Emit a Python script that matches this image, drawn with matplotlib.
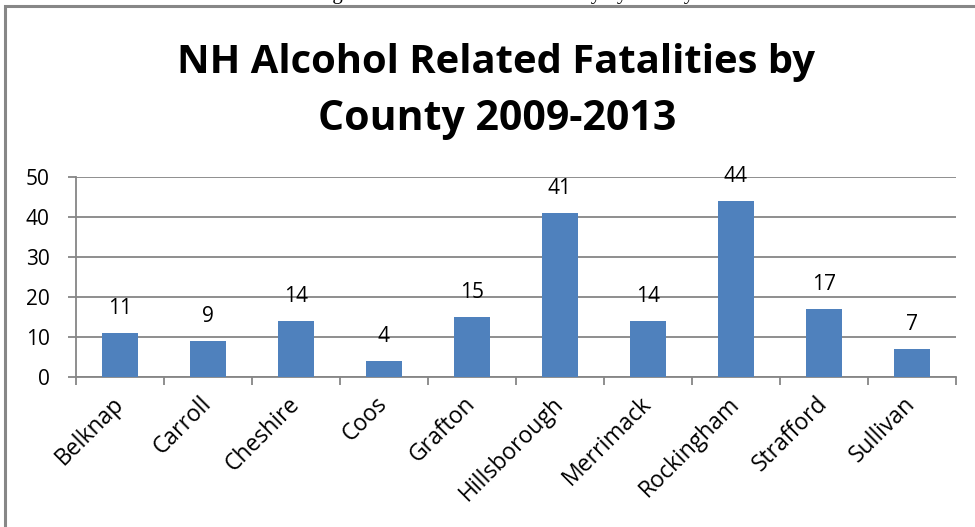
import matplotlib

matplotlib.use("Agg")
import matplotlib.pyplot as plt
from matplotlib.patches import Rectangle

counties = ["Belknap", "Carroll", "Cheshire", "Coos", "Grafton",
            "Hillsborough", "Merrimack", "Rockingham", "Strafford", "Sullivan"]
fatalities = [11, 9, 14, 4, 15, 41, 14, 44, 17, 7]
y_ticks = [0, 10, 20, 30, 40, 50]

W, H = 975, 527
fig = plt.figure(figsize=(W / 100, H / 100), dpi=100)
font = ["Open Sans", "DejaVu Sans"]

# chart frame (runs off the right and bottom edges)
fig.patches.append(Rectangle((4.5 / W, -0.1), 1.1, 1.1 - 6 / H,
                             transform=fig.transFigure, fill=False,
                             edgecolor="#878787", linewidth=2.2))

# caption of the page, almost all cut off by the top edge
fig.text(505 / W, 1 + 1.5 / H, "Figure 5: Alcohol Related Fatality by County",
         ha="center", va="baseline", fontsize=15, family="Liberation Serif")

left, right, top, bottom = 76, 956, 177, 377
ax = fig.add_axes([left / W, 1 - bottom / H, (right - left) / W, (bottom - top) / H])

x = range(len(counties))
ax.bar(x, fatalities, width=0.4, color="#4f81bd", zorder=3)
for xi, v in zip(x, fatalities):
    ax.text(xi, v + 3.5, str(v), ha="center", va="bottom", fontsize=15, family=font)

ax.set_xlim(-0.5, len(counties) - 0.5)
ax.set_ylim(0, 50)
ax.set_yticks(y_ticks)
ax.set_yticklabels([str(t) for t in y_ticks], fontsize=15, family=font)
ax.yaxis.grid(True, color="#868686", linewidth=1.3, zorder=0)
ax.tick_params(axis="y", length=6, width=1.3, color="#868686", pad=13)

ax.set_xticks([i - 0.5 for i in range(len(counties) + 1)], minor=False)
ax.set_xticklabels([])
ax.set_xticks(list(x), minor=True)
ax.set_xticklabels(counties, minor=True, rotation=45, ha="right", va="center",
                   rotation_mode="anchor", fontsize=16.5, family=font)
ax.tick_params(axis="x", which="major", length=6, width=1.3, color="#868686")
ax.tick_params(axis="x", which="minor", length=0, pad=17)

for side in ["top", "right"]:
    ax.spines[side].set_visible(False)
for side in ["left", "bottom"]:
    ax.spines[side].set_color("#868686")
    ax.spines[side].set_linewidth(1.3)

fig.text(496 / W, 1 - 62 / H, "NH Alcohol Related Fatalities by",
         ha="center", va="center", fontsize=28.8, fontweight="bold", family=font)
fig.text(497 / W, 1 - 120 / H, "County 2009-2013",
         ha="center", va="center", fontsize=29.5, fontweight="bold", family=font)

fig.savefig("out.png", dpi=100)
